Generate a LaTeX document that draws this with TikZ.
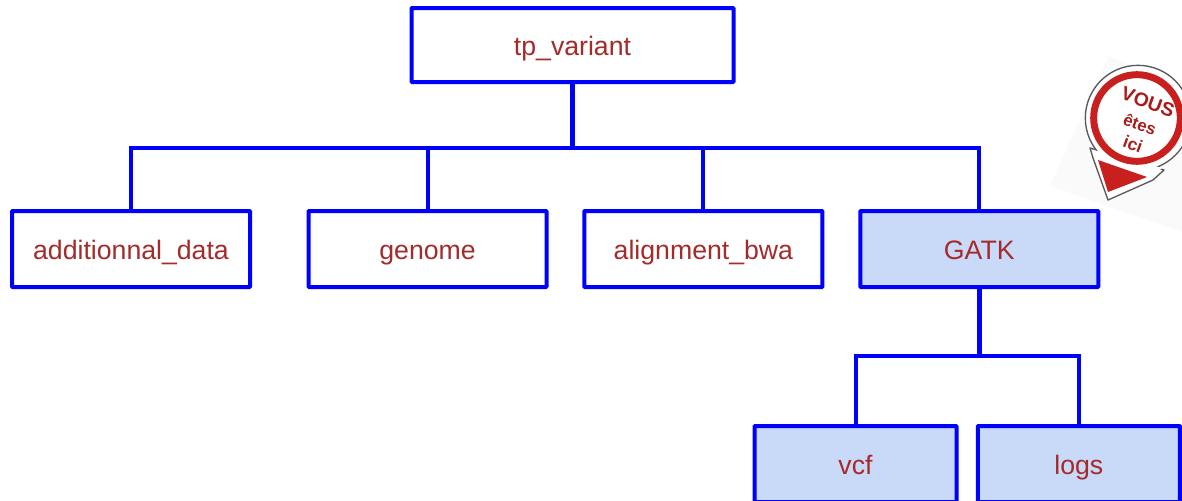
\documentclass[tikz,border=0pt]{standalone}
\usepackage{fontspec}
\setmainfont{Liberation Sans}
\usetikzlibrary{positioning, calc}
\definecolor{folderblue}{HTML}{0000FF}
\definecolor{folderfill}{HTML}{C9DAF8}
\definecolor{foldertext}{HTML}{A52A2A}
\definecolor{badgered}{HTML}{C8201F}
\tikzset{
  folder/.style={draw=folderblue, line width=3pt, fill=white, text=foldertext, font=\fontsize{20}{23}\selectfont, minimum width=178.5pt, minimum height=57pt, inner sep=0pt, text height=17pt, text depth=2pt, rounded corners=0.5pt},
  here/.style={folder, fill=folderfill},
  link/.style={draw=folderblue, line width=3pt},
  badgetext/.style={text=badgered!85!black, font=\bfseries\fontsize{14.5}{15}\selectfont, rotate=-20, inner sep=0pt},
}

\begin{document}
\begin{tikzpicture}[x=0.75pt, y=-0.75pt]
      \useasboundingbox (0,0) rectangle (1182,500);

      \node[folder, minimum width=241.5pt, minimum height=55.5pt] (root) at (572.5,45) {tp\_variant};
      \node[folder] (data) at (131,249) {additionnal\_data};
      \node[folder, right=40.9pt of data] (genome) {genome};
      \node[folder, right=25.4pt of genome] (bwa) {alignment\_bwa};
      \node[here, right=25.4pt of bwa] (gatk) {GATK};
      \node[here, minimum width=151.5pt] (vcf) at (855.5,464) {vcf};
      \node[here, minimum width=151.5pt, right=13pt of vcf] (logs) {logs};

      \coordinate (bus) at (root.south |- 0,148);
      \coordinate (subbus) at (gatk.south |- 0,356);

      \draw[link, line width=3.6pt] (root.south) -- (bus);
      \draw[link] (data.north) |- (bus) -| (gatk.north);
      \draw[link] (genome.north) -- (genome.north |- bus);
      \draw[link] (bwa.north) -- (bwa.north |- bus);
      \draw[link, line width=3.6pt] (gatk.south) -- (subbus);
      \draw[link] (vcf.north) |- (subbus) -| (logs.north);

      % badge
      \fill[black!2] (1050,186) -- (1108,56) -- (1182,84) -- (1182,232) -- cycle;
      \draw[black!65, fill=white, line width=1pt, line join=round] (1090,148) -- (1093,158) -- (1108,200) -- (1153,180) -- (1164,170) -- cycle;
      \node[circle, draw=black!65, fill=white, line width=1pt, minimum size=79pt, inner sep=0pt] (badge) at (1138,118) {};
      \fill[white] (1093,150) -- (1096,158) -- (1109,197) -- (1151,178) -- (1162,168) -- cycle;
      \node[circle, draw=badgered, fill=white, line width=5.2pt, minimum size=65pt, inner sep=0pt] (ring) at (1137,118) {};
      \fill[badgered] (1098,160) -- (1147,177) -- (1108,192) -- cycle;
      \node[badgetext] (vous) at (1148,102) {VOUS};
      \node[badgetext, font=\bfseries\fontsize{12.5}{13}\selectfont] (etes) at (1140,124) {êtes};
      \node[badgetext, font=\bfseries\fontsize{13}{13}\selectfont] (ici) at (1133,144) {ici};
    \end{tikzpicture}
\end{document}
